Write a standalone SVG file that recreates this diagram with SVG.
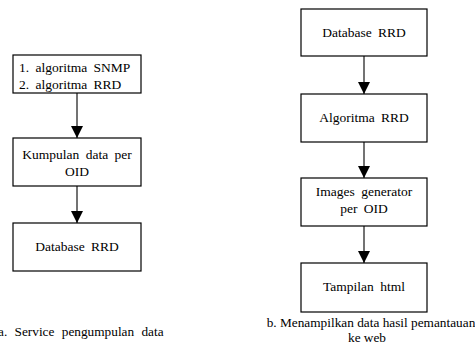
<svg xmlns="http://www.w3.org/2000/svg" width="475" height="352" viewBox="0 0 475 352">
<style>
rect.box{fill:#fff;stroke:#000;stroke-width:1.2}
text{font-family:'Liberation Serif','DejaVu Serif',serif;font-size:13.5px;fill:#000;word-spacing:3px}
.c{text-anchor:middle}
.cap{font-size:13.3px;word-spacing:0}
line.con{stroke:#444;stroke-width:1.5}
</style>
<defs>
<marker id="ah" markerUnits="userSpaceOnUse" markerWidth="14" markerHeight="12" refX="12" refY="6" orient="auto">
<path d="M0,0 L12,6 L0,12 Z" fill="#000"/>
</marker>
</defs>
<rect width="475" height="352" fill="#fff"/>
<g id="connectors">
<line class="con" x1="77" y1="93" x2="77" y2="138" marker-end="url(#ah)"/>
<line class="con" x1="77" y1="186" x2="77" y2="223" marker-end="url(#ah)"/>
<line class="con" x1="364" y1="56" x2="364" y2="94" marker-end="url(#ah)"/>
<line class="con" x1="364" y1="142" x2="364" y2="178" marker-end="url(#ah)"/>
<line class="con" x1="364" y1="226" x2="364" y2="263" marker-end="url(#ah)"/>
</g>
<g id="a1">
<rect class="box" x="13" y="55" width="128" height="38"/>
<text x="19" y="72">1. algoritma SNMP</text>
<text x="19" y="89">2. algoritma RRD</text>
</g>
<g id="a2">
<rect class="box" x="13" y="138" width="128" height="48"/>
<text class="c" x="77" y="159">Kumpulan data per</text>
<text class="c" x="77" y="176">OID</text>
</g>
<g id="a3">
<rect class="box" x="13" y="223" width="128" height="48"/>
<text class="c" x="77" y="251">Database RRD</text>
</g>
<g id="b1">
<rect class="box" x="301" y="9" width="126" height="47"/>
<text class="c" x="364" y="37">Database RRD</text>
</g>
<g id="b2">
<rect class="box" x="301" y="94" width="126" height="48"/>
<text class="c" x="364" y="122">Algoritma RRD</text>
</g>
<g id="b3">
<rect class="box" x="301" y="178" width="126" height="48"/>
<text class="c" x="364" y="196">Images generator</text>
<text class="c" x="364" y="213">per OID</text>
</g>
<g id="b4">
<rect class="box" x="301" y="263" width="126" height="49"/>
<text class="c" x="364" y="291">Tampilan html</text>
</g>
<g id="captions">
<text x="-2" y="336" style="word-spacing:4px;font-size:13.3px">a. Service pengumpulan data</text>
<text class="c cap" x="371" y="327">b. Menampilkan data hasil pemantauan</text>
<text class="c cap" x="367" y="342">ke web</text>
</g>
</svg>
